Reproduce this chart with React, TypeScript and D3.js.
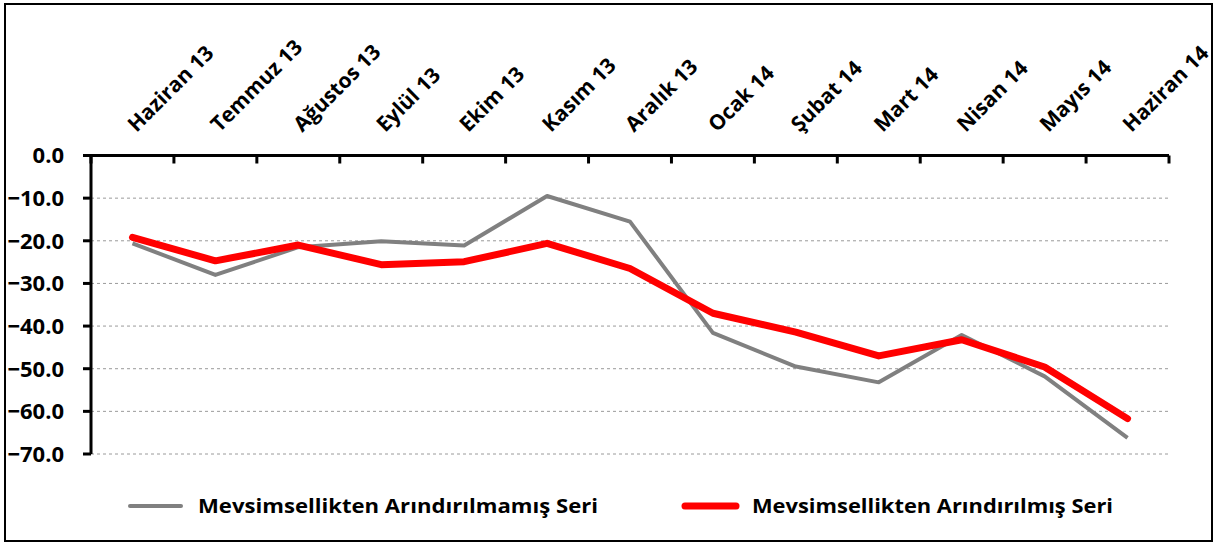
import React from 'react'
import * as d3 from 'd3'

// months on the x axis
const months = ['Haziran 13', 'Temmuz 13', 'Ağustos 13', 'Eylül 13', 'Ekim 13', 'Kasım 13', 'Aralık 13',
  'Ocak 14', 'Şubat 14', 'Mart 14', 'Nisan 14', 'Mayıs 14', 'Haziran 14']

const rawSeries = [-20.6, -28.0, -21.5, -20.1, -21.1, -9.5, -15.5, -41.6, -49.5, -53.2, -42.1, -51.8, -66.2]
const adjSeries = [-19.2, -24.7, -21.0, -25.6, -24.9, -20.6, -26.5, -37.0, -41.4, -47.0, -43.2, -49.6, -61.7]

const yTicks = [0, -10, -20, -30, -40, -50, -60, -70]
const gridTicks = [-10, -20, -30, -40, -50, -60, -70]

const rawName = 'Mevsimsellikten Arındırılmamış Seri'
const adjName = 'Mevsimsellikten Arındırılmış Seri'

const W = 1216, H = 547
const left = 91, right = 1169, top = 155.5, bottom = 454
const font = '"Open Sans", sans-serif'

export default function App() {
  const x = d3.scaleBand().domain(months).range([left, right])
  const y = d3.scaleLinear().domain([0, -70]).range([top, bottom])
  const cx = (d: string) => (x(d) as number) + x.bandwidth() / 2

  const line = d3.line<number>()
    .x((d, i) => cx(months[i]))
    .y(d => y(d))

  const bounds = months.map(m => x(m) as number).concat([right])

  return (
    <svg width={W} height={H} style={{ position: 'absolute', left: 0, top: 0 }}>
      <rect x={0} y={0} width={W} height={H} fill="#fff" />
      <rect x={5} y={4} width={1207} height={537} fill="none" stroke="#000" strokeWidth={2} />

      {/* grid */}
      {gridTicks.map(t => (
        <line key={t} x1={left} x2={right} y1={y(t)} y2={y(t)}
          stroke="#9a9a9a" strokeWidth={1} strokeDasharray="3,3" />
      ))}

      {/* lines */}
      <path d={line(rawSeries) || ''} fill="none" stroke="#808080" strokeWidth={4} strokeLinejoin="round" />
      <path d={line(adjSeries) || ''} fill="none" stroke="#ff0000" strokeWidth={7} strokeLinejoin="round" strokeLinecap="round" />

      {/* y axis */}
      <line x1={left} x2={left} y1={top} y2={bottom} stroke="#000" strokeWidth={3} />
      {yTicks.map(t => (
        <g key={t}>
          <line x1={left - 8} x2={left} y1={y(t)} y2={y(t)} stroke="#000" strokeWidth={3} />
          <text x={64} y={y(t)} dy="0.36em" textAnchor="end" fontFamily={font}
            fontWeight="bold" fontSize={22} fill="#000">{d3.format('.1f')(t)}</text>
        </g>
      ))}

      {/* x axis on top */}
      <line x1={left} x2={right} y1={top} y2={top} stroke="#000" strokeWidth={3} />
      {bounds.map((b, i) => (
        <line key={i} x1={b} x2={b} y1={top} y2={top + 8} stroke="#000" strokeWidth={3} />
      ))}
      {months.map(m => (
        <text key={m} transform={`translate(${cx(m) + 4},133) rotate(-45)`} fontFamily={font}
          fontWeight="bold" fontSize={21} fill="#000">{m}</text>
      ))}

      {/* legend */}
      <line x1={130} x2={181} y1={506} y2={506} stroke="#808080" strokeWidth={4} strokeLinecap="round" />
      <text x={198} y={513} fontFamily={font} fontWeight="bold" fontSize={20} fill="#000"
        textLength={400} lengthAdjust="spacingAndGlyphs">{rawName}</text>
      <line x1={685} x2={736} y1={506} y2={506} stroke="#ff0000" strokeWidth={7} strokeLinecap="round" />
      <text x={752} y={513} fontFamily={font} fontWeight="bold" fontSize={20} fill="#000"
        textLength={361} lengthAdjust="spacingAndGlyphs">{adjName}</text>
    </svg>
  )
}
